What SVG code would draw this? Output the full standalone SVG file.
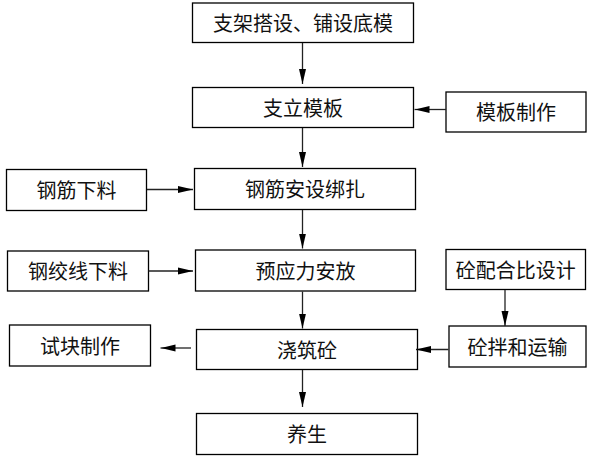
<svg xmlns="http://www.w3.org/2000/svg" width="593" height="457" viewBox="0 0 593 457">
<style>
rect.box{fill:#fff;stroke:#000;stroke-width:1.3}
text{font-family:"Noto Sans CJK SC","Noto Sans CJK JP",sans-serif;font-size:20px;fill:#111;text-anchor:middle}
.conn line{stroke:#222;stroke-width:1.3;marker-end:url(#ah)}
</style>
<defs>
<marker id="ah" markerUnits="userSpaceOnUse" markerWidth="15" markerHeight="8" refX="15" refY="4" orient="auto">
<path d="M0,0.5 L15,4 L0,7.5 z" fill="#000"/>
</marker>
</defs>
<rect width="593" height="457" fill="#fff"/>
<g id="n1"><rect class="box" x="192.5" y="3" width="221" height="39.5"/><text x="303" y="30.5">支架搭设、铺设底模</text></g>
<g id="n2"><rect class="box" x="192.5" y="87.5" width="221" height="40"/><text x="303" y="115.5">支立模板</text></g>
<g id="n3"><rect class="box" x="446" y="92" width="140" height="40"/><text x="516" y="120">模板制作</text></g>
<g id="n4"><rect class="box" x="6.5" y="169.5" width="140" height="41"/><text x="76.5" y="198">钢筋下料</text></g>
<g id="n5"><rect class="box" x="194.5" y="168.5" width="221" height="41"/><text x="305" y="197">钢筋安设绑扎</text></g>
<g id="n6"><rect class="box" x="7.5" y="251" width="141" height="40"/><text x="78" y="279">钢绞线下料</text></g>
<g id="n7"><rect class="box" x="195.5" y="250" width="220" height="41"/><text x="305.5" y="278.5">预应力安放</text></g>
<g id="n8"><rect class="box" x="446" y="249.5" width="139.5" height="40"/><text x="515.75" y="277.5">砼配合比设计</text></g>
<g id="n9"><rect class="box" x="9.5" y="325" width="141" height="41"/><text x="80" y="353.5">试块制作</text></g>
<g id="n10"><rect class="box" x="196.5" y="329.5" width="221" height="40"/><text x="307" y="357.5">浇筑砼</text></g>
<g id="n11"><rect class="box" x="449" y="326" width="137" height="41"/><text x="517.5" y="354.5">砼拌和运输</text></g>
<g id="n12"><rect class="box" x="196.5" y="413.5" width="221" height="41"/><text x="307" y="442">养生</text></g>
<g id="connectors" class="conn">
<line x1="302.5" y1="43" x2="302.5" y2="84"/>
<line x1="446" y1="109.5" x2="414.5" y2="109.5"/>
<line x1="302.5" y1="128" x2="302.5" y2="167"/>
<line x1="147" y1="189.5" x2="193" y2="189.5"/>
<line x1="302.5" y1="210" x2="302.5" y2="248.5"/>
<line x1="148.5" y1="271" x2="193" y2="271"/>
<line x1="302.5" y1="291.5" x2="302.5" y2="328.5"/>
<line x1="505" y1="290" x2="505" y2="326"/>
<line x1="448.5" y1="349.5" x2="416" y2="349.5"/>
<line x1="191" y1="348" x2="160.5" y2="348"/>
<line x1="302.5" y1="370" x2="302.5" y2="407"/>
</g>
</svg>
